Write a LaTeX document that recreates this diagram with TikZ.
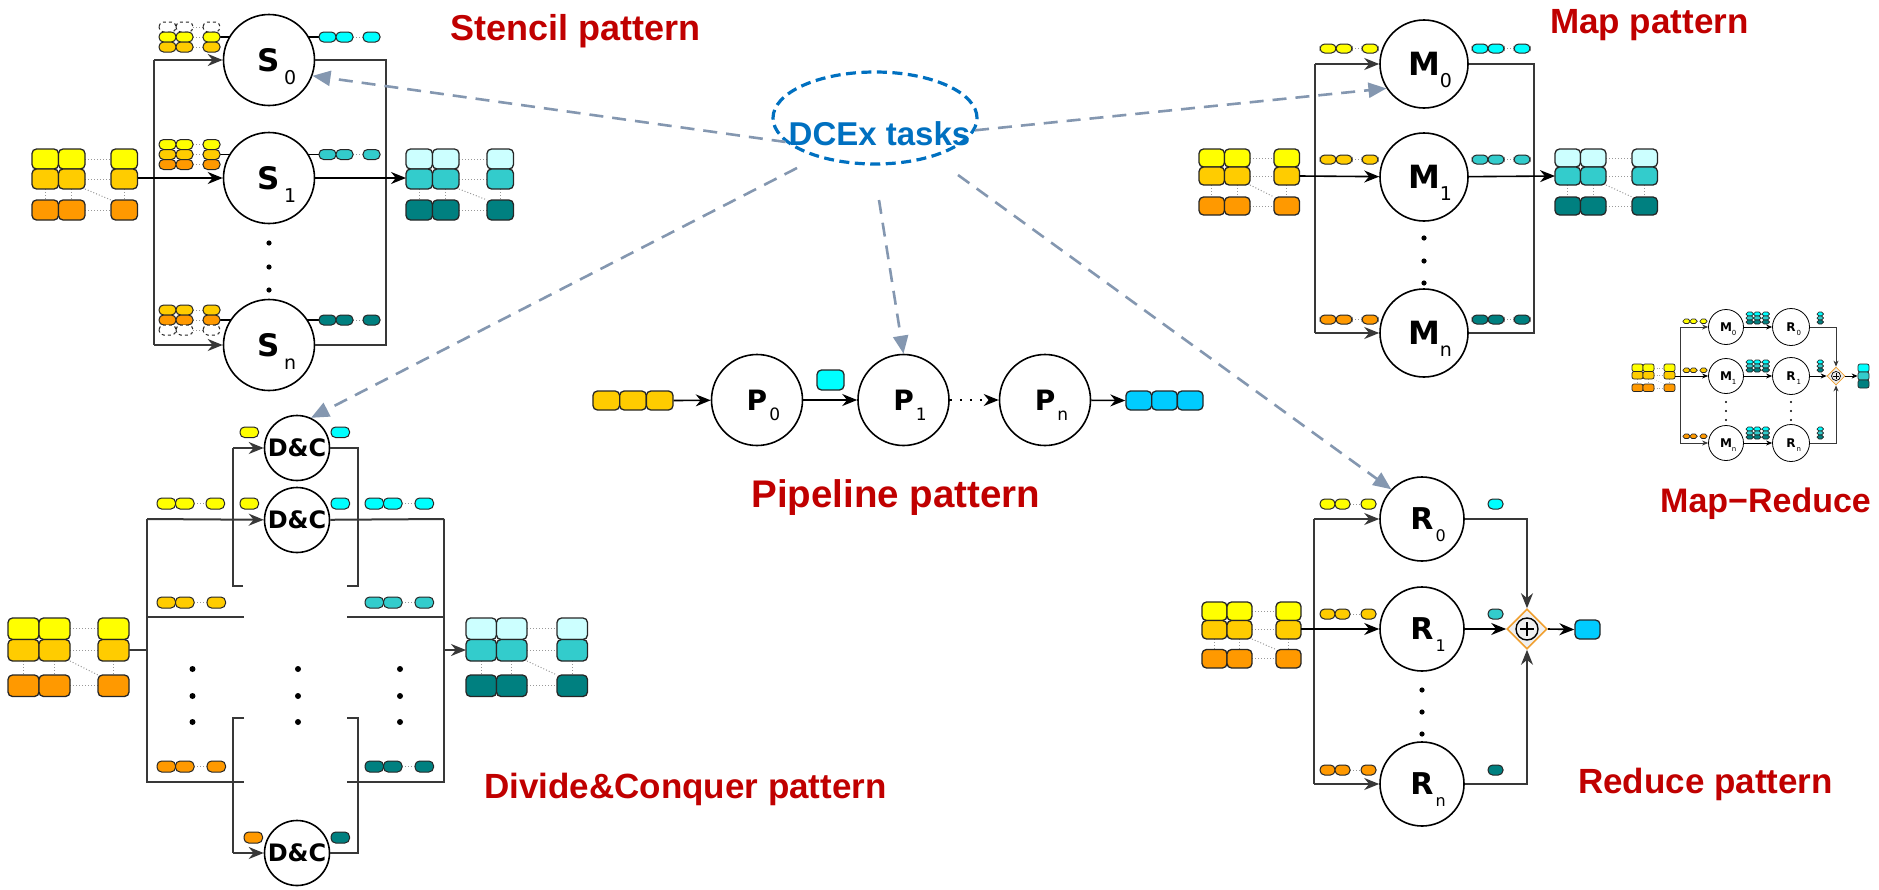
\documentclass[tikz,border=0pt]{standalone}
\usepackage{fontspec}
\setmainfont{DejaVu Sans}
\newfontfamily\ttlfont{Liberation Sans}
\usetikzlibrary{arrows.meta,shapes.geometric,backgrounds}

\definecolor{cyel}{HTML}{FFFF00}
\definecolor{cgold}{HTML}{FFCC00}
\definecolor{corg}{HTML}{FF9900}
\definecolor{ctl}{HTML}{CCFFFF}
\definecolor{ctm}{HTML}{33CCCC}
\definecolor{ctd}{HTML}{008080}
\definecolor{ccyan}{HTML}{00FFFF}
\definecolor{csky}{HTML}{00CCFF}
\definecolor{ttlred}{HTML}{C00000}
\definecolor{dcblue}{HTML}{0070C0}
\definecolor{gline}{HTML}{8497B0}
\definecolor{frm}{HTML}{383838}
\definecolor{plusorg}{HTML}{F0A030}

% 3x3 data block: x y tilew tileh col3x row3y fill1 fill2 fill3
\newcommand\tileblock[9]{%
  \foreach \cx in {#1,#1+#3,#5}
    \draw[guide] ({\cx+#3/2},{#2+2*#4}) -- ({\cx+#3/2},{#6});
  \foreach \ry in {#2+#4/2,#2+1.5*#4,#6+#4/2}
    \draw[guide] ({#1+2*#3},{\ry}) -- ({#5},{\ry});
  \draw[guide] ({#1+2*#3},{#2+2*#4}) -- ({#5},{#6});
  \foreach \cx in {#1,#1+#3,#5}{
    \filldraw[tile,fill=#7] ({\cx},{#2}) rectangle ++(#3,#4);
    \filldraw[tile,fill=#8] ({\cx},{#2+#4}) rectangle ++(#3,#4);
    \filldraw[tile,fill=#9] ({\cx},{#6}) rectangle ++(#3,#4);
  }%
}
% row of three chunks: x y w h col3x fill extra
\newcommand\ovgrp[7]{%
  \draw[guide] ({#1+2*#3},{#2+#4/2}) -- ({#5},{#2+#4/2});
  \foreach \cx in {#1,#1+#3,#5}
    \filldraw[oval,fill=#6,#7] ({\cx},{#2}) rectangle ++(#3,#4);
}
% single chunk: x y w h fill
\newcommand\ovone[5]{\filldraw[oval,fill=#5] (#1,#2) rectangle ++(#3,#4);}
% task label with subscript: letter sub lettersize subsize gap drop
\newcommand\plbl[6]{{\fontsize{#3}{#3}\selectfont\bfseries #1}\rlap{\kern#5pt\raisebox{-#6pt}[0pt][0pt]{\fontsize{#4}{#4}\selectfont #2}}}

\begin{document}
\begin{tikzpicture}[x=1pt,y=-1pt,
  tile/.style={draw=black!85,line width=1.3pt,rounded corners=4.5pt},
  oval/.style={draw=black!85,line width=1pt,rounded corners=4.6pt},
  guide/.style={draw=gray!80,dotted,line width=1pt},
  tilen/.style={draw=black!85,line width=1.3pt,rounded corners=4.5pt,inner sep=0pt,minimum width=#1,minimum height=19pt},
  tilen/.default=26.7pt,
  proc/.style={circle,draw=black,line width=1.6pt,fill=white,inner sep=0pt,minimum size=#1},
  proc/.default=90pt,
  frm/.style={draw=frm,line width=2pt},
  arr/.style={-{Stealth[length=15pt,width=12pt]}},
  garrow/.style={draw=gline,line width=2.6pt,dash pattern=on 14pt off 9pt,-{Triangle[length=18pt,width=15pt]}},
  ttl/.style={font=\ttlfont\bfseries\fontsize{36}{36}\selectfont,text=ttlred,inner sep=0pt},
  dclbl/.style={font=\fontsize{24}{24}\selectfont\bfseries}
]
\useasboundingbox (0,0) rectangle (1879,889);

%================ Stencil ================
\node[proc=91pt] (S0) at (269,60)  {\plbl{S}{0}{31}{19}{4}{13}};
\node[proc=91pt] (S1) at (269,178) {\plbl{S}{1}{31}{19}{4}{13}};
\node[proc=91pt] (Sn) at (269,345) {\plbl{S}{n}{31}{19}{4}{13}};
\tileblock{32}{149}{26.5}{20}{111}{200}{cyel}{cgold}{corg}
\tileblock{406}{149}{26.5}{20}{487}{200}{ctl}{ctm}{ctd}
\coordinate (sin) at (137.5,178);
\coordinate (sout) at (406,178);
\begin{scope}[on background layer]
  \draw[line width=1.5pt] (220,37) -- (269,37) -- (319,37);
  \draw[line width=1.5pt] (220,154.5) -- (269,154.5) -- (319,154.5);
  \draw[line width=1.5pt] (220,320) -- (269,320) -- (319,320);
\end{scope}
\ovgrp{159}{22}{17}{10}{203}{white}{dashed}
\ovgrp{159}{32}{17}{10}{203}{cyel}{}
\ovgrp{159}{42}{17}{10}{203}{cgold}{}
\ovgrp{319}{32}{17}{10}{363}{ccyan}{}
\ovgrp{159}{139.5}{17}{10}{203}{cyel}{}
\ovgrp{159}{149.5}{17}{10}{203}{cgold}{}
\ovgrp{159}{159.5}{17}{10}{203}{corg}{}
\ovgrp{319}{149.5}{17}{10}{363}{ctm}{}
\ovgrp{159}{305}{17}{10}{203}{cgold}{}
\ovgrp{159}{315}{17}{10}{203}{corg}{}
\ovgrp{159}{325}{17}{10}{203}{white}{dashed}
\ovgrp{319}{315}{17}{10}{363}{ctd}{}
\draw[frm] (154,60) -- (154,345);
\draw[frm,arr] (154,60) -- (S0);
\draw[frm,arr] (154,345) -- (Sn);
\draw[frm] (S0.east) -- (386,60) -- (386,345) -- (Sn.east);
\draw[line width=1.6pt,arr] (sin) -- (S1);
\draw[line width=1.6pt,arr] (S1) -- (sout);
\foreach \yy in {243,267,290} \fill (269,\yy) circle (2.6);
\node[ttl,anchor=base west] (tS) at (450,40) {Stencil pattern};

%================ Map ================
\node[proc=88pt] (M0) at (1424,64)  {\plbl{M}{0}{32}{19}{0}{12}};
\node[proc=88pt] (M1) at (1424,177) {\plbl{M}{1}{32}{19}{0}{12}};
\node[proc=88pt] (Mn) at (1424,333) {\plbl{M}{n}{32}{19}{0}{12}};
\tileblock{1199}{149}{25.5}{18}{1274}{197}{cyel}{cgold}{corg}
\tileblock{1555}{149}{25.5}{18}{1632}{197}{ctl}{ctm}{ctd}
\coordinate (min) at (1299.5,176);
\coordinate (mout) at (1555,176);
\ovgrp{1320}{44}{16}{9}{1362}{cyel}{}
\ovgrp{1472}{44}{16}{9}{1514}{ccyan}{}
\ovgrp{1320}{155}{16}{9}{1362}{cgold}{}
\ovgrp{1472}{155}{16}{9}{1514}{ctm}{}
\ovgrp{1320}{315}{16}{9}{1362}{corg}{}
\ovgrp{1472}{315}{16}{9}{1514}{ctd}{}
\draw[frm] (1315,64) -- (1315,333);
\draw[frm,arr] (1315,64) -- (M0);
\draw[frm,arr] (1315,333) -- (Mn);
\draw[frm] (M0.east) -- (1534,64) -- (1534,333) -- (Mn.east);
\draw[line width=1.6pt,arr] (min) -- (M1);
\draw[line width=1.6pt,arr] (M1) -- (mout);
\foreach \yy in {238,261,283} \fill (1424,\yy) circle (2.6);
\node[ttl,anchor=base west,font=\ttlfont\bfseries\fontsize{35}{35}\selectfont] (tM) at (1550,33) {Map pattern};

%================ Map-Reduce (small) ================
\begin{scope}[tile/.style={draw=black!85,line width=0.7pt,rounded corners=2pt},
  oval/.style={draw=black!85,line width=0.6pt,rounded corners=1.9pt},
  guide/.style={draw=gray!70,dotted,line width=0.5pt},
  arr/.style={-{Stealth[length=6pt,width=5pt]}}]
\node[proc=35pt,line width=0.8pt] (mM0) at (1726,327) {\plbl{M}{0}{12}{7}{0}{4}};
\node[proc=35pt,line width=0.8pt] (mM1) at (1726,376) {\plbl{M}{1}{12}{7}{0}{4}};
\node[proc=35pt,line width=0.8pt] (mMn) at (1726,443) {\plbl{M}{n}{12}{7}{0}{4}};
\node[proc=37pt,line width=0.8pt] (mR0) at (1791,327) {\plbl{R}{0}{12}{7}{1}{4}};
\node[proc=37pt,line width=0.8pt] (mR1) at (1791,376) {\plbl{R}{1}{12}{7}{1}{4}};
\node[proc=37pt,line width=0.8pt] (mRn) at (1791,443) {\plbl{R}{n}{12}{7}{1}{4}};
\node[diamond,draw=plusorg,fill=gray!15,line width=0.8pt,inner sep=0pt,minimum size=18pt] (mdia) at (1836,376) {};
\node[circle,draw=black,line width=0.7pt,inner sep=0pt,minimum size=9pt] (mplus) at (mdia) {};
\draw[line width=0.8pt] (1833,376) -- (1839,376) (1836,373) -- (1836,379);
\tileblock{1632}{364}{11}{7.5}{1664}{384}{cyel}{cgold}{corg}
\coordinate (mrin) at (1675,376);
\node[tilen=11pt,minimum height=8pt,fill=ccyan,line width=0.7pt,rounded corners=2pt] (mo1) at (1863.5,368) {};
\node[tilen=11pt,minimum height=8pt,fill=ctm,line width=0.7pt,rounded corners=2pt] (mo2) at (1863.5,376) {};
\node[tilen=11pt,minimum height=8pt,fill=ctd,line width=0.7pt,rounded corners=2pt] (mo3) at (1863.5,384) {};
\ovgrp{1683}{319}{7}{4.5}{1700}{cyel}{}
\ovgrp{1683}{368}{7}{4.5}{1700}{cgold}{}
\ovgrp{1683}{434}{7}{4.5}{1700}{corg}{}
\foreach \yy in {312,360,427}{
  \ovgrp{1746}{\yy}{7.5}{4}{1762}{ccyan}{}
  \ovgrp{1746}{\yy+4}{7.5}{4}{1762}{ctm}{}
  \ovgrp{1746}{\yy+8}{7.5}{4}{1762}{ctd}{}
  \ovone{1817}{\yy}{6.5}{4}{ccyan}
  \ovone{1817}{\yy+4}{6.5}{4}{ctm}
  \ovone{1817}{\yy+8}{6.5}{4}{ctd}
}
\draw[line width=0.8pt,draw=frm] (1680,327) -- (1680,443);
\draw[line width=0.8pt,draw=frm,arr] (1680,327) -- (mM0);
\draw[line width=0.8pt,draw=frm,arr] (1680,443) -- (mMn);
\draw[line width=0.8pt,arr] (mrin) -- (mM1);
\draw[line width=0.8pt,arr] (mM0) -- (mR0);
\draw[line width=0.8pt,arr] (mM1) -- (mR1);
\draw[line width=0.8pt,arr] (mMn) -- (mRn);
\draw[line width=0.8pt,draw=frm,arr] (mR0.east) -| (mdia.north);
\draw[line width=0.8pt,arr] (mR1) -- (mdia.west);
\draw[line width=0.8pt,draw=frm,arr] (mRn.east) -| (mdia.south);
\draw[line width=0.8pt,arr] (mdia.east) -- (mo2.west);
\foreach \yy in {402,411,420}{\fill (1726,\yy) circle (1.2); \fill (1791,\yy) circle (1.2);}
\end{scope}
\node[ttl,anchor=base west,font=\ttlfont\bfseries\fontsize{34}{34}\selectfont] (tMR) at (1660,512) {Map−Reduce};

%================ Reduce ================
\node[proc=84pt] (R0) at (1422,519) {\plbl{R}{0}{30}{16}{2}{12}};
\node[proc=84pt] (R1) at (1422,629) {\plbl{R}{1}{30}{16}{2}{12}};
\node[proc=84pt] (Rn) at (1422,784) {\plbl{R}{n}{30}{16}{2}{12}};
\node[diamond,draw=plusorg,fill=gray!12,line width=1.6pt,inner sep=0pt,minimum size=40pt] (rdia) at (1527,629) {};
\node[circle,draw=black,line width=1.4pt,inner sep=0pt,minimum size=22pt] (rplus) at (rdia) {};
\draw[line width=2pt] (1520,629) -- (1534,629) (1527,622) -- (1527,636);
\node[tilen=25pt,fill=csky] (rout) at (1587.5,629.5) {};
\tileblock{1202}{602}{25}{18.5}{1276}{649.5}{cyel}{cgold}{corg}
\coordinate (rin) at (1301,629);
\ovgrp{1320}{499}{15}{10}{1361}{cyel}{}
\ovgrp{1320}{609}{15}{10}{1361}{cgold}{}
\ovgrp{1320}{765}{15}{10}{1361}{corg}{}
\ovone{1488}{499}{15}{10}{ccyan}
\ovone{1488}{609}{15}{10}{ctm}
\ovone{1488}{765}{15}{10}{ctd}
\draw[frm] (1314,519) -- (1314,784);
\draw[frm,arr] (1314,519) -- (R0);
\draw[frm,arr] (1314,784) -- (Rn);
\draw[frm,arr] (R0.east) -| (rdia.north);
\draw[frm,arr] (Rn.east) -| (rdia.south);
\draw[line width=1.6pt,arr] (rin) -- (R1);
\draw[line width=1.6pt,arr] (R1) -- (rdia.west);
\draw[line width=1.6pt,arr] (rdia.east) -- (rout.west);
\foreach \yy in {690,712,734} \fill (1422,\yy) circle (2.6);
\node[ttl,anchor=base west,font=\ttlfont\bfseries\fontsize{35}{35}\selectfont] (tR) at (1578,793) {Reduce pattern};

%================ Pipeline ================
\node[proc=91pt] (P0) at (757,400) {\plbl{P}{0}{28}{17}{2}{10}};
\node[proc=91pt] (P1) at (903.5,400) {\plbl{P}{1}{28}{17}{2}{10}};
\node[proc=91pt] (Pn) at (1045,400) {\plbl{P}{n}{28}{17}{2}{10}};
\foreach \i in {0,1,2} \node[tilen,fill=cgold] (pin\i) at ({606.3+26.7*\i},400.5) {};
\foreach \i in {0,1,2} \node[tilen=25.7pt,fill=csky] (pout\i) at ({1138.8+25.7*\i},400.5) {};
\node[tilen=27pt,minimum height=20pt,fill=ccyan] (pmid) at (830.5,380) {};
\draw[line width=1.6pt,arr] (pin2.east) -- (P0);
\draw[line width=1.6pt,arr] (P0) -- (P1);
\draw[line width=1.8pt,dash pattern=on 2pt off 8pt,arr] (P1) -- (Pn);
\draw[line width=1.6pt,arr] (Pn) -- (pout0.west);
\node[ttl,anchor=base,font=\ttlfont\bfseries\fontsize{38.5}{38.5}\selectfont] (tP) at (896,507) {Pipeline pattern};

%================ Divide & Conquer ================
\node[proc=65pt,dclbl] (DC1) at (297,448) {D\&C};
\node[proc=65pt,dclbl] (DC2) at (297,520) {D\&C};
\node[proc=65pt,dclbl] (DC3) at (297,853) {D\&C};
\tileblock{8}{618}{31}{21.5}{98}{675}{cyel}{cgold}{corg}
\tileblock{466}{618}{30.5}{21.5}{557}{675}{ctl}{ctm}{ctd}
\coordinate (dcin) at (129,650);
\coordinate (dcout) at (466,650);
\ovone{240}{427}{18.5}{10.5}{cyel}
\ovone{331}{427}{18.5}{10.5}{ccyan}
\ovgrp{157}{498}{18.5}{11}{206}{cyel}{}
\ovone{240}{498}{18.5}{11}{cyel}
\ovone{331}{498}{18.5}{11}{ccyan}
\ovgrp{365}{498}{18.5}{11}{415}{ccyan}{}
\ovgrp{157}{597}{18.5}{11}{207}{cgold}{}
\ovgrp{365}{597}{18.5}{11}{415}{ctm}{}
\ovgrp{157}{761}{18.5}{11}{207}{corg}{}
\ovgrp{365}{761}{18.5}{11}{415}{ctd}{}
\ovone{244}{832}{18.5}{11}{corg}
\ovone{331}{832}{18.5}{11}{ctd}
\draw[frm] (dcin) -- (147,650);
\draw[frm] (147,519) -- (147,782) -- (244,782);
\draw[frm] (347,782) -- (444,782) -- (444,519);
\draw[frm] (147,617) -- (244,617);
\draw[frm] (347,617) -- (444,617);
\draw[frm,arr] (147,519) -- (DC2);
\draw[frm] (DC2) -- (444,519);
\draw[frm,arr] (444,650) -- (dcout);
\draw[frm] (243,586) -- (233,586) -- (233,448);
\draw[frm,arr] (233,448) -- (DC1);
\draw[frm] (DC1) -- (358,448) -- (358,586) -- (347,586);
\draw[frm] (244,718) -- (233,718) -- (233,853);
\draw[frm,arr] (233,853) -- (DC3);
\draw[frm] (DC3) -- (358,853) -- (358,718) -- (347,718);
\foreach \xx in {192.5,298,400}
  \foreach \yy in {669,696,722} \fill (\xx,\yy) circle (3);
\node[ttl,anchor=base west,font=\ttlfont\bfseries\fontsize{35}{35}\selectfont] (tD) at (484,798) {Divide\&Conquer pattern};

%================ DCEx tasks ================
\node[ellipse,draw=dcblue,line width=3.2pt,dash pattern=on 10pt off 5.5pt,inner sep=0pt,minimum width=204pt,minimum height=92pt] (dcex) at (875,118) {};
\node[anchor=base,inner sep=0pt,text=dcblue,font=\ttlfont\bfseries\fontsize{33}{33}\selectfont] (tDC) at (879.5,145) {DCEx tasks};
\coordinate (gD) at (797,168);
\coordinate (gP) at (879,200);
\coordinate (gR) at (958,175);
\draw[garrow] (dcex.195) -- (S0.-20);
\draw[garrow] (dcex.353) -- (M0.213);
\draw[garrow] (gD) -- (DC1.65);
\draw[garrow] (gP) -- (P1.north);
\draw[garrow] (gR) -- (R0.136);
\end{tikzpicture}
\end{document}
